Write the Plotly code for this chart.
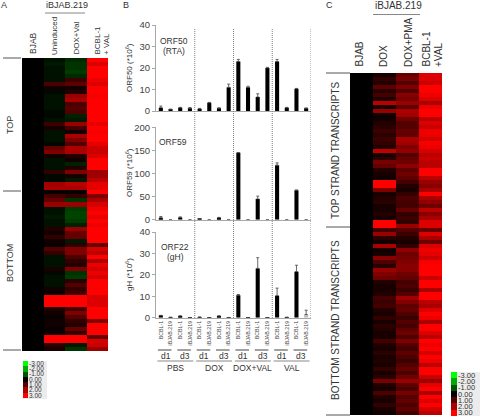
import plotly.graph_objects as go

W, H = 480, 418

# ---------- data ----------
sample_labels = ["BCBL-1", "iBJAB.219"] * 8
positions = list(range(16))

orf50 = [1.5, 0.7, 1.5, 1.3, 1.0, 3.8, 1.3, 11, 23, 11, 6.5, 20, 23, 1.5, 10.3, 1.3]
orf50_err = [0.8, 0.2, 0.2, 0.3, 0.2, 0.2, 0.2, 1.5, 1.0, 0.5, 1.5, 0.3, 1.0, 0.2, 0.2, 0.1]
orf59 = [4, 0, 5, 0, 1, 0, 4, 0, 145, 0, 45, 0, 118, 0, 64, 0]
orf59_err = [3, 0, 1, 0, 0, 0, 1, 0, 0, 0, 6, 0, 5, 0, 0, 0]
orf22 = [1.0, 0.2, 0.8, 0.1, 0.3, 0.1, 0.8, 0.1, 10.5, 0.1, 23, 0.1, 10.3, 0.2, 21.5, 1.5]
orf22_err = [0.1, 0, 0.1, 0, 0, 0, 0.1, 0, 0.3, 0, 5, 0, 3.5, 0, 3, 2]

groups = ["PBS", "DOX", "DOX+VAL", "VAL"]
days = ["d1", "d3"]

a_columns = ["BJAB", "Uninduced", "DOX+Val", "BCBL-1 + VAL"]
a_bjab = [0, 0, 0, 0, 0, 0, 0, 0, 0, 0, 0, 0, 0, 0, 0, 0, 0, 0, 0, 0, 0, 0, 0, 0,
          0, 0, 0, 0, 0, 0, 0, 0, 0, 0, 0, 0, 0, 0, 0, 0, 0, 0, 0, 0, 0, 0, 0, 0,
          0, 0, 0, 0, 0, 0, 0, 0, 0, 0, 0, 0, 0, 0, 0, 0, 0, 0, 0, 0, 0, 0, 0, 0, 0]
a_uninduced = [-.2, -.3, -.2, -.2, -.2, -.2, .9, .2, -.1, -.2,
               -.2, -.2, -.2, -.1, -.1, -.2, .7, .3, -.2, -.2,
               -.2, -.1, 1.2, 1.5,
               .2, -.2, -.2, -.2, .6, -.1, -.1, 1.9, 2, .1,
               .8, 1.2, 1.8, -.2, -.2, -.3, -.2, -.2, .4, .2,
               .6, .2, .1, 1,
               .6, -.2, -.2, -.2, .3, -.1, -.2, -.2, -.2, .2,
               .1, 3, 3, 3, .4, .2, .1, .2, .2, .1,
               .2, 3, 3, .5, .3]
a_dox_val = [-.5, -.6, -.6, -.7, -.5, .7, 1.1, .2, .4, 1.8,
             2, .9, 1, .9, -.4, -.3, 1.8, .8, .2, 2,
             1.5, 1, 2, 2,
             .4, .2, -.4, .4, 1.5, .3, -.3, 2.2, 2, .1,
             .6, -.6, 1.8, -.7, -.8, -.8, -.7, -.4, 1.8, 1.2,
             1.2, -.3, .5, 1.5,
             1.5, .9, .6, .4, 1.5, -.6, -.7, .5, 1, .6,
             .8, 3, 3, 3, .8, 1.5, 1, .6, .4, 1.2,
             .6, 3, 3, -.3, -.6]
a_bcbl = [3, 2.6, 3, 3, 3, 2.8, 2.6, 3, 3, 2.9,
          3, 3, 3, 3, 3, 3, 2.7, 3, 2.9, 3,
          3, 2.7, 2.4, 2.4,
          2.6, 3, 3, 3, 1.8, 1.9, 2.2, 2.7, 2.7, 3,
          1.5, 2, 2.5, 2.8, 3, 2.7, 3, 2.8, 3, 3,
          3, 3, 1.2, 2.5,
          2.2, 3, 2, 2.8, 2.5, 2.8, 2.5, 3, 3, 3,
          3, 2.6, 2.6, 2.6, 3, 3, 3, 1.5, 3, 3,
          3, 1.2, 2.5, 2.4, 1.8]

c_columns = ["BJAB", "DOX", "DOX+PMA", "BCBL-1 +VAL"]
c_bjab = [0, 0, 0, 0, 0, 0, 0, 0, 0, 0, 0, 0, 0, 0, 0, 0, 0, 0, 0, 0, 0, 0, 0, 0, 0, 0, 0, 0, 0, 0,
          0, 0, 0, 0, 0, 0, 0, 0, 0, 0, 0, 0, 0, 0, 0, 0, 0, 0, 0, 0, 0, 0, 0, 0, 0, 0, 0, 0, 0,
          0, 0, 0, 0, 0, 0, 0, 0, 0, 0, 0, 0, 0, 0, 0, 0, 0, 0, 0, 0, 0, 0, 0, 0, 0, 0, 0]
c_dox = [.3, .6, .4, 1.1, .5, .8, .4, 2.2, .3, 1.8, .2, .2, .4, .5, .7, .5, .7, .6, .4, 2.3, .3, .5, 1.4, 1.2, .4, .3, .2, 3, 3, 1.5,
         .3, .4, .5, .3, .3, .4, .3, 3, 3, .8, 1.8, .5, .2, 2, .2, .3, 1.6, .9, .5, 1.8, 1.5, 1.3, .4, .3, .3, .4, .8, .7, .8,
         .4, .3, .6, .3, .5, .4, .3, .3, .8, .4, .3, .5, .3, .4, .3, .6, .3, .5, 1.4, .4, .3, .9, .4, .3, .6, .3, .2]
c_dox_pma = [1.2, 1.4, 1, 1.5, 1, 1.6, 1.4, 1.8, 1.1, 2, 1.9, 1.3, 1, 1, 1.2, 1.1, 2, 1.9, 1.5, 1.7, 1, 1.2, 1.3, 1.7, 1.1, 1.3, 1.1, .8, .4, .3,
             .6, .9, .8, .8, 1.2, .6, .7, .6, 1.8, 1, .7, .4, .3, .6, 1.7, 1.3, 1.4, 1.5, 1.6, 1.6, 1.3, 1.2, .8, .9, .7, 1, 1.9, 1.5, 1.1,
             1.2, .9, .7, 1, .8, 1.1, 1.3, .9, 1.5, 1, .8, 1.1, .9, .7, 1, 1.2, .9, 1.3, 1.8, 1.1, .9, 1.4, 1, 1.2, .9, 1.1, .8]
c_bcbl = [2.6, 2.6, 2.4, 3, 3, 2.8, 2.6, 2, 2.8, 3, 3, 2.2, 2.6, 2.4, 2.8, 2.8, 2.5, 2.9, 2.8, 2.5, 2.2, 2.4, 2.2, 2.2, 3, 3, 2.2, 1.8, 1.6, 2,
          3, 2, 1.7, 1.3, 2.2, 1.6, 2, 2.6, 2.6, 1.2, 2.6, 2, 1.3, 2.6, 2.8, 2.7, 2.4, 2.9, 3, 3, 3, 2.4, 3, 3, 2, 3, 3, 2.2, 2,
          2.6, 3, 2.8, 2, 3, 3, 2.6, 2.2, 3, 2.8, 3, 2.5, 3, 2.8, 2.2, 3, 3, 2.4, 1.8, 2.7, 3, 2, 3, 2.6, 3, 2.5, 2.2]

legend_values = [-3, -2, -1, 0, 1, 2, 3]
legend_labels = ["-3.00", "-2.00", "-1.00", "0.00", "1.00", "2.00", "3.00"]

# ---------- helpers ----------
FONT = "Liberation Sans"
TXT = "#333333"
GRID = "#a8a8a8"
scale = [[0, "#00ff00"], [0.5, "#000000"], [1, "#ff0000"]]


def fx(x):
    return x / W


def fy(y):
    return 1 - y / H


def xdom(a, b):
    return [fx(a), fx(b)]


def ydom(top, bottom):
    return [fy(bottom), fy(top)]


fig = go.Figure()
layout = {}
annotations = []
shapes = []


def text(x, y, s, size=9, angle=0, color=TXT, xanchor="center", yanchor="middle"):
    annotations.append(dict(x=fx(x), y=fy(y), xref="paper", yref="paper", text=s, showarrow=False,
                            font=dict(size=size, color=color, family=FONT), textangle=angle,
                            xanchor=xanchor, yanchor=yanchor, borderpad=0, borderwidth=0))


def line(x0, y0, x1, y1, color="#555555", width=1):
    shapes.append(dict(type="line", xref="paper", yref="paper", x0=fx(x0), x1=fx(x1), y0=fy(y0), y1=fy(y1),
                       line=dict(color=color, width=width)))


def heat(n, cols, names, x0, x1, y0, y1):
    rows = list(range(len(cols[0])))
    z = [[c[r] for c in cols] for r in rows]
    fig.add_trace(go.Heatmap(z=z, x=names, y=rows, colorscale=scale, zmin=-3, zmax=3, showscale=False,
                             xaxis=f"x{n}", yaxis=f"y{n}", hoverongaps=False))
    layout[f"xaxis{n}"] = dict(domain=xdom(x0, x1), anchor=f"y{n}", visible=False)
    layout[f"yaxis{n}"] = dict(domain=ydom(y0, y1), anchor=f"x{n}", visible=False, autorange=False,
                               range=[len(rows) - 0.5, -0.5])


def bars(n, values, errors, top, bottom, ymax, dtick, show_labels=False):
    colors = ["#000000"] * len(values)
    if show_labels:
        colors[-1] = "#bdbdbd"
    fig.add_trace(go.Bar(x=positions, y=values, marker=dict(color=colors, line=dict(width=0)),
                         width=0.42, xaxis=f"x{n}", yaxis=f"y{n}",
                         error_y=dict(type="data", symmetric=False, array=errors, arrayminus=[0] * len(errors),
                                      thickness=0.8, width=1.5, color="#444444")))
    layout[f"xaxis{n}"] = dict(domain=xdom(156, 311), anchor=f"y{n}", range=[-0.5, 15.5], showgrid=False,
                               zeroline=False, showline=True, linecolor=GRID, linewidth=1, ticks="",
                               tickmode="array", tickvals=positions if show_labels else [],
                               ticktext=sample_labels if show_labels else [], tickangle=-90,
                               tickfont=dict(size=5.3, color="#444444", family=FONT), ticklen=0)
    layout[f"yaxis{n}"] = dict(domain=ydom(top, bottom), anchor=f"x{n}", range=[0, ymax], dtick=dtick,
                               showgrid=False, zeroline=False, showline=True, linecolor=GRID, linewidth=1,
                               ticks="outside", ticklen=3, tickcolor=GRID,
                               tickfont=dict(size=9.5, color="#444444", family=FONT))


def legend(n, x0, x1, y0, y1, size):
    fig.add_trace(go.Heatmap(z=[[v] for v in legend_values], y=list(range(7)), x=["key"], colorscale=scale,
                             zmin=-3, zmax=3, showscale=False, xaxis=f"x{n}", yaxis=f"y{n}"))
    layout[f"xaxis{n}"] = dict(domain=xdom(x0, x1), anchor=f"y{n}", visible=False)
    layout[f"yaxis{n}"] = dict(domain=ydom(y0, y1), anchor=f"x{n}", side="right", autorange=False,
                               range=[6.5, -0.5], tickmode="array", tickvals=list(range(7)), ticktext=legend_labels,
                               showgrid=False, zeroline=False, showline=False, ticks="", ticklen=0,
                               tickfont=dict(size=size, color=TXT, family=FONT))


# ---------- traces ----------
heat(1, [a_bjab, a_uninduced, a_dox_val, a_bcbl], a_columns, 22, 108, 58, 351)
heat(2, [c_bjab, c_dox, c_dox_pma, c_bcbl], c_columns, 350, 442, 73, 415)
bars(3, orf50, orf50_err, 25, 111, 40, 10)
bars(4, orf59, orf59_err, 127.3, 219.7, 200, 50)
bars(5, orf22, orf22_err, 232, 317.7, 40, 10, show_labels=True)
legend(6, 23, 28, 361, 398, 6.5)
legend(7, 451, 457, 372, 416, 7.5)

# legend backgrounds
for x0, x1, y0, y1 in [(23, 47, 361, 399), (451, 480, 372, 416)]:
    shapes.append(dict(type="rect", xref="paper", yref="paper", x0=fx(x0), x1=fx(x1), y0=fy(y1), y1=fy(y0),
                       fillcolor="#ececec", line=dict(width=0), layer="below"))

# separators between groups in B
for i in range(4):
    shapes.append(dict(type="line", xref="x5", yref="paper", x0=3.5 + 4 * i, x1=3.5 + 4 * i, y0=fy(318), y1=fy(28),
                       line=dict(color="#808080", width=1, dash="1px,1px")))

# d1/d3 and group brackets below B
for g, name in enumerate(groups):
    start = 4 * g
    shapes.append(dict(type="line", xref="x5", yref="paper", x0=start - 0.35, x1=start + 3.35, y0=fy(361), y1=fy(361),
                       line=dict(color="#888888", width=1)))
    annotations.append(dict(x=start + 1.5, y=fy(368), xref="x5", yref="paper", text=name, showarrow=False,
                            yanchor="middle", xanchor="center",
                            font=dict(size=8.5, color=TXT, family=FONT)))
    for d, day in enumerate(days):
        s = start + 2 * d
        shapes.append(dict(type="line", xref="x5", yref="paper", x0=s - 0.3, x1=s + 1.1, y0=fy(350), y1=fy(350),
                           line=dict(color="#444444", width=1)))
        annotations.append(dict(x=s + 0.5, y=fy(355.5), xref="x5", yref="paper", text=day, showarrow=False,
                                yanchor="middle", xanchor="center",
                                font=dict(size=8.5, color=TXT, family=FONT)))

# ---------- panel labels and text ----------
text(4, 5, "A", 9)
text(126, 5, "B", 9)
text(329, 5, "C", 9)

text(67, 5, "iBJAB.219", 9)
line(45, 13, 85, 13, "#888888")
text(33, 54, "BJAB", 8.5, -90, yanchor="bottom")
text(55, 55, "Uninduced", 8, -90, yanchor="bottom")
text(76, 55, "DOX+Val", 8, -90, yanchor="bottom")
text(97, 55, "BCBL-1", 8, -90, yanchor="bottom")
text(107, 55, "+ VAL", 8, -90, yanchor="bottom")
text(10, 125, "TOP", 9, -90)
text(10, 263, "BOTTOM", 9, -90)
line(3, 58, 21, 58)
line(3, 191, 21, 191)
line(3, 350, 21, 350)

text(398, 5, "iBJAB.219", 10)
line(373, 14.5, 420, 14.5, "#888888")
text(359, 67, "BJAB", 10, -90, yanchor="bottom")
text(383, 67, "DOX", 10, -90, yanchor="bottom")
text(408, 67, "DOX+PMA", 10, -90, yanchor="bottom")
text(426, 67, "BCBL-1", 10, -90, yanchor="bottom")
text(438, 67, "+VAL", 10, -90, yanchor="bottom")
text(335, 150, "TOP STRAND TRANSCRIPTS", 10, -90)
text(335, 320, "BOTTOM STRAND TRANSCRIPTS", 10, -90)
line(326, 73, 350, 73)
line(326, 227, 350, 227)
line(326, 415, 350, 415)

text(129, 68, "ORF50 (*10<sup>6</sup>)", 8, -90)
text(129, 173, "ORF59 (*10<sup>6</sup>)", 8, -90)
text(129, 275, "gH (*10<sup>6</sup>)", 8, -90)
text(174, 41, "ORF50", 8.5)
text(174, 51, "(RTA)", 8.5)
text(173, 142, "ORF59", 8.5)
text(175, 247, "ORF22", 8.5)
text(175, 257, "(gH)", 8.5)

fig.update_layout(template="none", width=W, height=H, autosize=False, margin=dict(l=0, r=0, t=0, b=0, pad=0),
                  paper_bgcolor="white", plot_bgcolor="rgba(0,0,0,0)", showlegend=False,
                  annotations=annotations, shapes=shapes, font=dict(family=FONT), **layout)

fig.write_html("out.html", config={"displayModeBar": False},
               post_script="document.body.style.margin='0';document.body.style.overflow='hidden';")
